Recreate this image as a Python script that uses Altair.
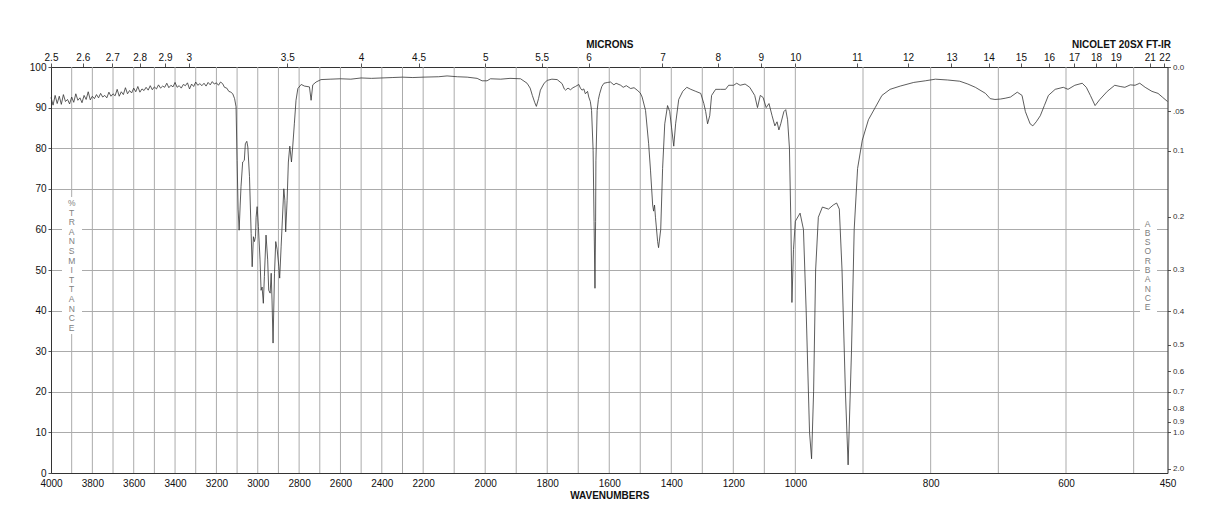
import altair as alt
import pandas as pd

# ---------------- data ----------------
seg_noise = [
    (4000, 92.5), (3990, 90.6), (3980, 93.0), (3970, 91.0), (3960, 92.8), (3950, 90.8),
    (3940, 93.2), (3930, 91.5), (3920, 92.0), (3910, 90.9), (3900, 92.6), (3890, 91.3),
    (3880, 93.4), (3870, 91.8), (3860, 92.4), (3850, 91.2), (3840, 93.0), (3830, 92.0),
    (3820, 93.9), (3810, 91.9), (3800, 92.8), (3790, 92.2), (3780, 93.2), (3770, 92.4),
    (3760, 93.5), (3750, 92.6), (3740, 93.0), (3730, 92.4), (3720, 93.8), (3710, 92.8),
    (3700, 93.4), (3690, 92.9), (3680, 94.5), (3670, 92.8), (3660, 93.9), (3650, 93.2),
    (3640, 94.9), (3630, 93.4), (3620, 94.2), (3610, 93.6), (3600, 94.8), (3590, 93.9),
    (3580, 95.2), (3570, 93.8), (3560, 94.6), (3550, 94.2), (3540, 95.0), (3530, 94.3),
    (3520, 95.4), (3510, 94.4), (3500, 95.1), (3490, 94.6), (3480, 95.6), (3470, 94.8),
    (3460, 95.3), (3450, 95.0), (3440, 96.0), (3430, 94.9), (3420, 95.5), (3410, 95.1),
    (3400, 96.2), (3390, 95.0), (3380, 95.4), (3370, 94.8), (3360, 95.7), (3350, 95.4),
    (3340, 96.1), (3330, 94.6), (3320, 95.8), (3310, 95.2), (3300, 96.3), (3290, 95.5),
    (3280, 95.9), (3270, 95.4), (3260, 96.0), (3250, 95.3), (3240, 96.2), (3230, 95.6),
    (3220, 96.4), (3210, 95.8), (3200, 96.1), (3190, 95.5), (3180, 96.3), (3170, 95.9),
    (3161, 95.0),
]

seg_ch = [
    (3150, 94.8), (3140, 94.0), (3130, 93.8), (3121, 93.4), (3112, 92.2), (3105, 90.2),
    (3100, 77.0), (3095, 65.0), (3090, 59.8), (3085, 66.0), (3081, 70.5), (3073, 76.6),
    (3065, 77.0), (3060, 81.1), (3053, 81.7), (3048, 80.3), (3040, 73.0), (3032, 59.0),
    (3027, 50.8), (3021, 58.2), (3016, 57.0), (3011, 58.2), (3008, 63.0), (3003, 65.6),
    (2997, 60.7), (2989, 52.5), (2984, 45.0), (2979, 45.8), (2973, 41.8), (2968, 48.4),
    (2960, 58.6), (2952, 52.5), (2947, 45.0), (2940, 44.3), (2935, 49.2), (2931, 42.6),
    (2926, 32.0), (2919, 49.2), (2913, 57.0), (2906, 55.0), (2898, 50.8), (2894, 48.0),
    (2887, 55.7), (2881, 62.3), (2874, 70.0), (2869, 67.2), (2865, 59.4), (2858, 67.2),
    (2852, 76.6), (2845, 80.5), (2837, 76.6), (2831, 80.3), (2823, 86.0), (2815, 91.8),
    (2806, 94.7), (2790, 95.7), (2774, 95.3), (2750, 95.1), (2742, 91.8), (2734, 95.6),
    (2718, 96.3), (2694, 96.9),
]

seg_mid = [
    (2650, 97.0), (2600, 97.1), (2550, 97.0), (2500, 97.3), (2450, 97.2), (2400, 97.3),
    (2350, 97.4), (2300, 97.5), (2250, 97.4), (2200, 97.5), (2150, 97.6), (2123, 97.8),
    (2090, 97.6), (2058, 97.5), (2026, 97.2), (2010, 96.6), (1994, 96.6), (1983, 97.1),
    (1950, 97.0), (1920, 97.2), (1886, 97.1), (1865, 96.0), (1855, 94.8), (1848, 93.0),
    (1840, 91.2), (1835, 90.3), (1828, 92.2), (1822, 94.3), (1810, 96.0), (1800, 96.7),
    (1785, 97.0), (1768, 96.9), (1752, 95.9), (1745, 94.6), (1741, 94.3), (1733, 94.8),
    (1725, 94.4), (1717, 94.9), (1709, 95.2), (1698, 95.7), (1693, 94.8), (1688, 94.3),
    (1682, 94.6), (1677, 93.4), (1670, 94.0), (1666, 92.6), (1661, 91.5), (1657, 89.3),
    (1652, 79.5), (1649, 62.0), (1646, 45.5), (1644, 62.0), (1643, 76.9), (1639, 89.3),
    (1635, 92.0), (1631, 93.4), (1624, 95.2), (1617, 96.0), (1605, 96.2), (1596, 96.3),
    (1585, 95.6), (1578, 96.0), (1563, 95.5), (1555, 95.0), (1545, 95.4), (1531, 94.7),
    (1520, 94.9), (1510, 94.3), (1500, 93.6), (1494, 92.6), (1483, 89.3), (1473, 81.1),
    (1467, 74.6),
]

seg_fp = [
    (1460, 66.0), (1457, 64.5), (1454, 66.0), (1451, 63.0), (1444, 57.0), (1441, 55.5),
    (1434, 60.0), (1428, 75.0), (1421, 86.0), (1412, 90.5), (1405, 89.0), (1399, 85.0),
    (1392, 80.5), (1386, 86.0), (1376, 92.0), (1363, 94.0), (1350, 95.0), (1337, 94.5),
    (1321, 94.0), (1305, 93.5), (1295, 91.0), (1289, 89.0), (1283, 86.0), (1276, 88.0),
    (1270, 93.0), (1257, 94.5), (1241, 94.5), (1225, 94.5), (1215, 95.5), (1199, 95.5),
    (1189, 96.0), (1178, 95.5), (1162, 95.8), (1147, 95.0), (1131, 93.0), (1122, 90.0),
    (1113, 93.0), (1104, 92.5), (1094, 90.0), (1085, 91.0), (1075, 88.0), (1066, 85.5),
    (1059, 86.5), (1053, 84.5), (1047, 86.0), (1037, 89.0), (1031, 89.5), (1025, 87.0),
    (1019, 80.0),
]

seg_low = [
    (1014, 60.0), (1011, 42.0), (1006, 55.0), (1000, 62.0), (993, 64.0), (988, 60.0),
    (984, 40.0), (979, 10.0), (976, 3.5), (973, 20.0), (970, 50.0), (966, 63.0),
    (960, 65.5), (951, 65.0), (944, 66.0), (939, 66.5), (935, 65.0), (931, 50.0),
    (926, 20.0), (922, 2.0), (917, 30.0), (913, 60.0), (908, 75.0), (901, 82.0),
    (892, 87.0), (882, 90.0), (872, 93.0), (860, 94.5), (845, 95.3), (825, 96.2),
    (808, 96.6), (793, 97.0), (775, 96.8), (757, 96.5), (745, 95.8), (734, 95.0),
    (719, 93.5), (712, 92.2), (705, 92.0), (697, 92.1), (690, 92.3), (682, 92.6),
    (672, 93.8), (665, 93.0), (660, 89.0), (653, 86.0), (649, 85.5), (644, 86.5),
    (638, 88.0), (632, 90.5), (626, 93.0), (616, 94.5), (604, 95.0), (597, 94.5),
    (587, 95.5), (576, 96.0), (570, 95.0), (564, 93.0), (557, 90.5), (550, 92.0),
    (539, 94.0), (528, 95.5), (520, 95.2), (513, 95.0), (505, 95.6), (498, 95.5),
    (491, 96.0), (483, 95.0), (473, 94.0), (464, 93.5), (457, 92.5), (450, 91.5),
]

wavenumber_ticks = [4000, 3800, 3600, 3400, 3200, 3000, 2800, 2600, 2400, 2200,
                    2000, 1800, 1600, 1400, 1200, 1000, 800, 600, 450]
grid_wavenumbers = list(range(3900, 499, -100))
micron_labels = [2.5, 2.6, 2.7, 2.8, 2.9, 3, 3.5, 4, 4.5, 5, 5.5, 6, 7, 8, 9, 10,
                 11, 12, 13, 14, 15, 16, 17, 18, 19, 21, 22]
absorbance_labels = [0.0, 0.05, 0.1, 0.2, 0.3, 0.4, 0.5, 0.6, 0.7, 0.8, 0.9, 1.0, 2.0]
transmittance_ticks = [0, 10, 20, 30, 40, 50, 60, 70, 80, 90, 100]

# ---------------- tables ----------------
points = seg_noise + seg_ch + seg_mid + seg_fp + seg_low
spectrum = pd.DataFrame(points, columns=["wn", "T"])
grid_df = pd.DataFrame({"wn": grid_wavenumbers})
micron_df = pd.DataFrame({"wn": [10000.0 / m for m in micron_labels]})
abs_df = pd.DataFrame({"T": [100.0 * 10 ** (-a) for a in absorbance_labels]})

W = 1116.5
H = 406
FONT = "Liberation Sans"
GRID = "#ababab"

xs = alt.Scale(domain=[4000, 2200, 1000, 450], range=[0, W / 3, 2 * W / 3, W], nice=False)
ys = alt.Scale(domain=[0, 100], nice=False, zero=False)

bottom_axis = alt.Axis(
    orient="bottom", values=wavenumber_ticks, format="d", grid=False, ticks=False,
    labelPadding=5, labelFontSize=10, labelColor="#111", labelFont=FONT,
    title="WAVENUMBERS", titleFont=FONT, titleFontSize=10, titleFontWeight="bold",
    titlePadding=2, titleColor="#111", domainColor="#333", labelFlush=False,
)
top_axis = alt.Axis(
    orient="top", values=[10000.0 / m for m in micron_labels],
    labelExpr="format(10000 / datum.value, '.3~r')", grid=False,
    tickSize=4, tickColor="#555", labelPadding=1, labelFontSize=10, labelColor="#111",
    labelFont=FONT, labelFlush=False,
    title="MICRONS", titleFont=FONT, titleFontSize=10, titleFontWeight="bold",
    titlePadding=3, titleColor="#111", domainColor="#333",
)
left_axis = alt.Axis(
    orient="left", values=transmittance_ticks, grid=True, gridColor=GRID, gridWidth=1,
    tickSize=3, tickColor="#555", labelPadding=2, labelFontSize=10, labelColor="#111",
    labelFont=FONT, title=None, domainColor="#333", labelFlush=False,
)
right_axis = alt.Axis(
    orient="right", values=list(abs_df["T"]),
    labelExpr="abs(datum.value - 89.125) < 0.5 ? '.05' : format(abs(log(datum.value / 100) / LN10), '.1f')",
    grid=False, tickSize=3, tickColor="#555", labelPadding=2, labelFontSize=8,
    labelColor="#333", labelFont=FONT, title=None, domainColor="#333", labelFlush=False,
)

vgrid = alt.Chart(grid_df).mark_rule(color=GRID, strokeWidth=1).encode(
    x=alt.X("wn:Q", scale=xs, axis=None)
)

one = alt.Data(values=[{"a": 1}])
box_left = alt.Chart(one).mark_rect(color="white").encode(
    x=alt.value(11), x2=alt.value(31), y=alt.value(130), y2=alt.value(267)
)
box_right = alt.Chart(one).mark_rect(color="white").encode(
    x=alt.value(1089), x2=alt.value(1106), y=alt.value(151), y2=alt.value(247)
)

line = alt.Chart(spectrum).mark_line(color="#333333", strokeWidth=0.8).encode(
    x=alt.X("wn:Q", scale=xs, axis=bottom_axis),
    y=alt.Y("T:Q", scale=ys, axis=left_axis),
)

top = alt.Chart(micron_df).mark_point(opacity=0).encode(
    x=alt.X("wn:Q", scale=xs, axis=top_axis)
)
right = alt.Chart(abs_df).mark_point(opacity=0).encode(
    y=alt.Y("T:Q", scale=ys, axis=right_axis)
)

trans_label = alt.Chart(one).mark_text(
    font=FONT, fontSize=8.5, fill="#808080", align="center", baseline="top", lineHeight=9.6
).encode(
    x=alt.value(20.7), y=alt.value(132),
    text=alt.value(list("%TRANSMITTANCE")),
)
abs_label = alt.Chart(one).mark_text(
    font=FONT, fontSize=8.5, fill="#808080", align="center", baseline="top", lineHeight=9.33
).encode(
    x=alt.value(1096.7), y=alt.value(152.5),
    text=alt.value(list("ABSORBANCE")),
)
nicolet = alt.Chart(one).mark_text(
    font=FONT, fontSize=10, fontWeight="bold", fill="#111", align="right", baseline="middle"
).encode(
    x=alt.value(1120), y=alt.value(-22), text=alt.value("NICOLET 20SX FT-IR")
)

chart = (
    alt.layer(vgrid, box_left, box_right, line, top, right, trans_label, abs_label, nicolet)
    .resolve_axis(x="independent", y="independent")
    .properties(
        width=W, height=H, autosize=alt.AutoSizeParams(type="none"),
        padding={"left": 51, "top": 67, "right": 50, "bottom": 55},
        background="white",
    )
    .configure_view(stroke=None)
    .configure(font=FONT)
)

chart.save("out.html", embed_options={"renderer": "svg", "actions": False})
